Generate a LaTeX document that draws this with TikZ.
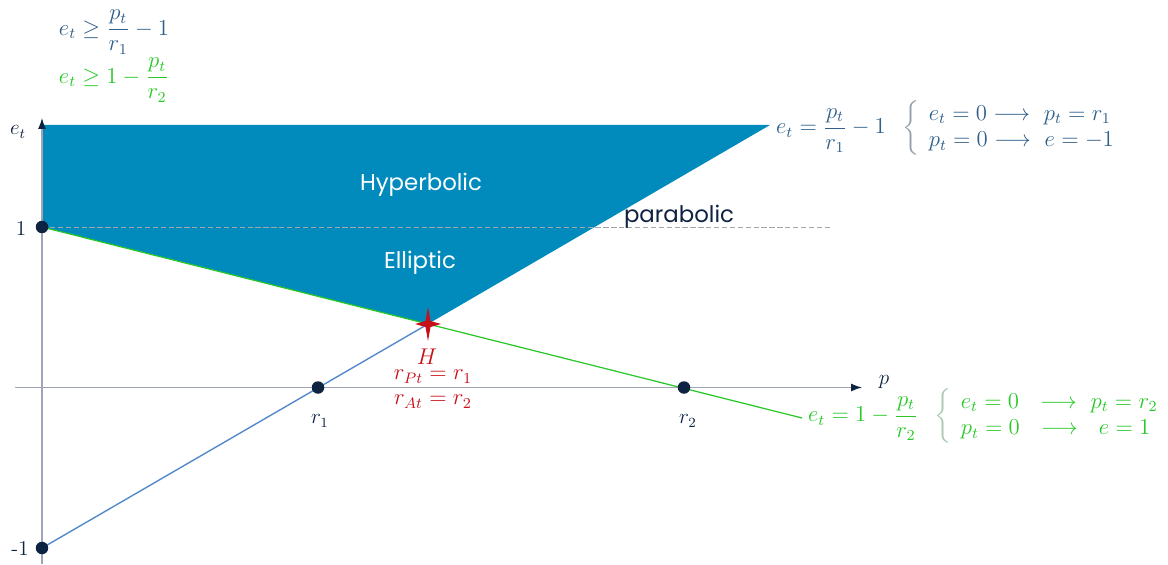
\documentclass[tikz,border=0pt]{standalone}
\usepackage{amsmath,amssymb}
\usepackage{graphicx}
\usepackage{xcolor}
\usepackage{fontspec}
\newfontfamily\geofont{Poppins}
\usepackage{tikz}
\usetikzlibrary{positioning,arrows.meta,shapes.geometric}

\definecolor{axisgray}{RGB}{160,164,184}
\definecolor{navy}{RGB}{14,34,66}
\definecolor{fillblue}{RGB}{0,139,188}
\definecolor{lineblue}{RGB}{84,138,204}
\definecolor{eqblue}{RGB}{47,95,138}
\definecolor{eqgreen}{RGB}{40,200,40}
\definecolor{hred}{RGB}{200,16,24}
\definecolor{bracegray}{RGB}{150,160,170}
\definecolor{bracegreen}{RGB}{170,200,180}

\newcommand{\bigeq}[1]{\scalebox{1.08}{$\displaystyle #1$}}

\begin{document}
\begin{tikzpicture}[x=0.02cm, y=-0.02cm,
  axis/.style={draw=axisgray, line width=0.7pt, -{Latex[length=2.2mm, width=1.6mm, color=navy]}},
  dot/.style={circle, fill=navy, inner sep=0pt, minimum size=2.5mm},
  region/.style={font=\geofont\fontsize{13}{15}\selectfont, text=white},
  lbl/.style={font=\large, text=navy, inner sep=1pt},
  eq/.style={font=\large, inner sep=1pt}
]
\useasboundingbox (0,0) rectangle (1168,564);
% key points (pixel grid)
\coordinate (O) at (42,387.5);
\coordinate (Etop) at (42,118);
\coordinate (Ybot) at (42,564);
\coordinate (Xbeg) at (15,387.5);
\coordinate (Pend) at (862,387.5);
\coordinate (One) at (42,227);
\coordinate (MOne) at (42,548);
\coordinate (R1) at (318,387.5);
\coordinate (R2) at (684,387.5);
\coordinate (H) at (428,324);
\coordinate (TL) at (42,125);
\coordinate (TR) at (770,125);
\coordinate (Gend) at (802,418);
\coordinate (Dend) at (830,227);

% allowed region
\fill[fillblue] (TL) -- (TR) -- (H) -- (One) -- cycle;
\node[region] (hyp) at (421,185) {Hyperbolic};
\node[region] (ell) at (420,263) {Elliptic};
\draw[gray!70, dashed, dash pattern=on 3pt off 1.5pt, line width=0.5pt] (One) -- (Dend);
\node[font=\geofont\fontsize{13}{15}\selectfont, text=navy, inner sep=0pt] (par) at (679,217) {parabolic};

% axes
\draw[axis] (Xbeg) -- (Pend);
\draw[axis] (Ybot) -- (Etop);
\node[lbl] (elab) at (18,132) {$e_t$};
\node[lbl] (plab) at (884,382) {$p$};

% lines
\draw[lineblue, line width=0.8pt] (MOne) -- (H);
\draw[eqgreen, line width=0.7pt] (One) -- (Gend);

\foreach \c in {One,MOne,R1,R2} \node[dot] at (\c) {};
\node[lbl] (onelab) at (21,228) {1};
\node[lbl] (monelab) at (20,548) {-1};
\node[lbl] (r1lab) at (320,421) {$r_1$};
\node[lbl] (r2lab) at (688,421) {$r_2$};

% tangency point
\fill[hred] (H) +(0,-17) -- +(2.5,-3) -- +(13,0) -- +(2.5,3) -- +(0,17) -- +(-2.5,3) -- +(-13,0) -- +(-2.5,-3) -- cycle;
\node[eq, text=hred] (hlab) at (427,357) {\bigeq{H}};
\node[eq, text=hred] (hcond) at (433,387) {\bigeq{\begin{array}{c} r_{Pt}=r_1\\[-1pt] r_{At}=r_2\end{array}}};

% inequalities
\node[eq, text=eqblue] (ineq1) at (114,32) {\bigeq{e_t \geq \frac{p_t}{r_1}-1}};
\node[eq, text=eqgreen] (ineq2) at (114,80) {\bigeq{e_t \geq 1-\frac{p_t}{r_2}}};

% line equations
\node[eq, text=eqblue, anchor=west] (eqb) at (774,128) {\bigeq{e_t=\frac{p_t}{r_1}-1\;\;\color{bracegray}\left\{\color{eqblue}\begin{array}{l} e_t=0 \longrightarrow\ p_t=r_1\\ p_t=0 \longrightarrow\ e=-1\end{array}\right.}};
\node[eq, text=eqgreen, anchor=west] (eqg) at (806,416) {\bigeq{e_t=1-\frac{p_t}{r_2}\;\;\color{bracegreen}\left\{\color{eqgreen}\begin{array}{l} e_t=0\ \ \longrightarrow\ p_t=r_2\\ p_t=0\ \ \longrightarrow\ \ e=1\end{array}\right.}};
\end{tikzpicture}
\end{document}
